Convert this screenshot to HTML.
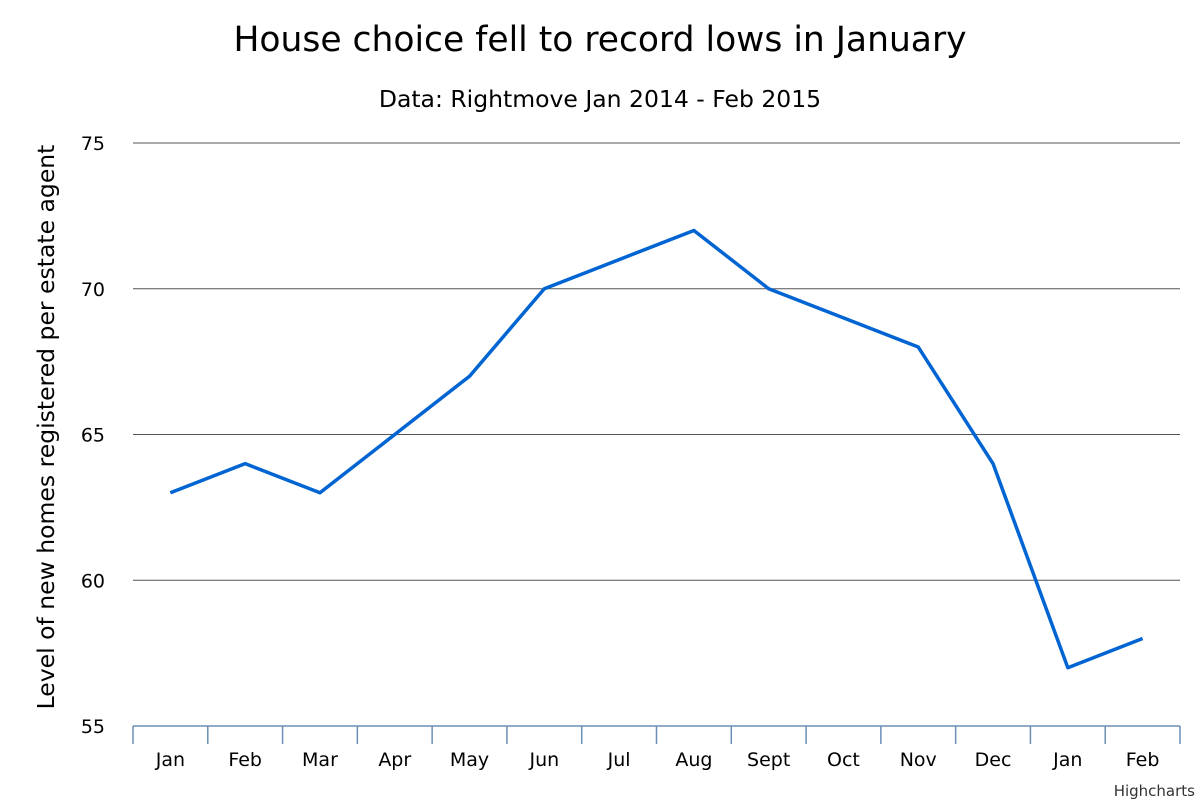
<!DOCTYPE html>
<html><head><meta charset="utf-8"><style>
body{margin:0;background:#fff;font-family:"DejaVu Sans","Liberation Sans",sans-serif;}
svg text{font-family:"DejaVu Sans","Liberation Sans",sans-serif;}
</style></head><body>
<svg id="chart" width="1200" height="800" xmlns="http://www.w3.org/2000/svg">
<rect width="1200" height="800" fill="#fff"/>
<text x="600" y="51" text-anchor="middle" font-size="34.5" fill="#000">House choice fell to record lows in January</text>
<text x="600" y="107" text-anchor="middle" font-size="23.5" fill="#000">Data: Rightmove Jan 2014 - Feb 2015</text>
<text transform="translate(54,427) rotate(-90)" text-anchor="middle" font-size="23.5" fill="#000">Level of new homes registered per estate agent</text>
<g id="grid"></g><g id="xaxis"></g><g id="series"></g>
<text x="1195" y="796" text-anchor="end" font-size="15" fill="#333">Highcharts</text>
</svg>
<script>
const categories=["Jan","Feb","Mar","Apr","May","Jun","Jul","Aug","Sept","Oct","Nov","Dec","Jan","Feb"];
const values=[63,64,63,65,67,70,71,72,70,69,68,64,57,58];
const yTicks=[55,60,65,70,75];
const NS="http://www.w3.org/2000/svg";
const L=133,R=1180,T=143,B=726,ymin=55,ymax=75;
const bw=(R-L)/categories.length;
const y=v=>B-(v-ymin)/(ymax-ymin)*(B-T);
const x=i=>L+bw*(i+0.5);
function mk(tag,attrs,parent,txt){const e=document.createElementNS(NS,tag);for(const k in attrs)e.setAttribute(k,attrs[k]);if(txt!=null)e.textContent=txt;parent.appendChild(e);return e;}
const grid=document.getElementById('grid'),xa=document.getElementById('xaxis'),se=document.getElementById('series');
yTicks.forEach(t=>{
 if(t!==ymin){const l=mk('line',{x1:L,x2:R,y1:y(t),y2:y(t),stroke:'#555','stroke-width':1},grid);
 
 }
 const tx=mk('text',{x:105,y:y(t)+7,'text-anchor':'end','font-size':19,fill:'#000'},grid,t);
 
 
});
const ax=mk('line',{x1:L,x2:R,y1:B,y2:B,stroke:'#6a8fb5','stroke-width':1.5},xa);


for(let i=0;i<=categories.length;i++){const tk=mk('line',{x1:L+bw*i,x2:L+bw*i,y1:B,y2:B+18,stroke:'#6a8fb5','stroke-width':1.5},xa);
 
 }
categories.forEach((c,i)=>{const t=mk('text',{x:x(i),y:766,'text-anchor':'middle','font-size':19,fill:'#000'},xa,c);
 
 });
const p=mk('polyline',{points:values.map((v,i)=>x(i)+','+y(v)).join(' '),fill:'none',stroke:'#0064d2','stroke-width':3.5,'stroke-linejoin':'round'},se);


</script>
</body></html>
